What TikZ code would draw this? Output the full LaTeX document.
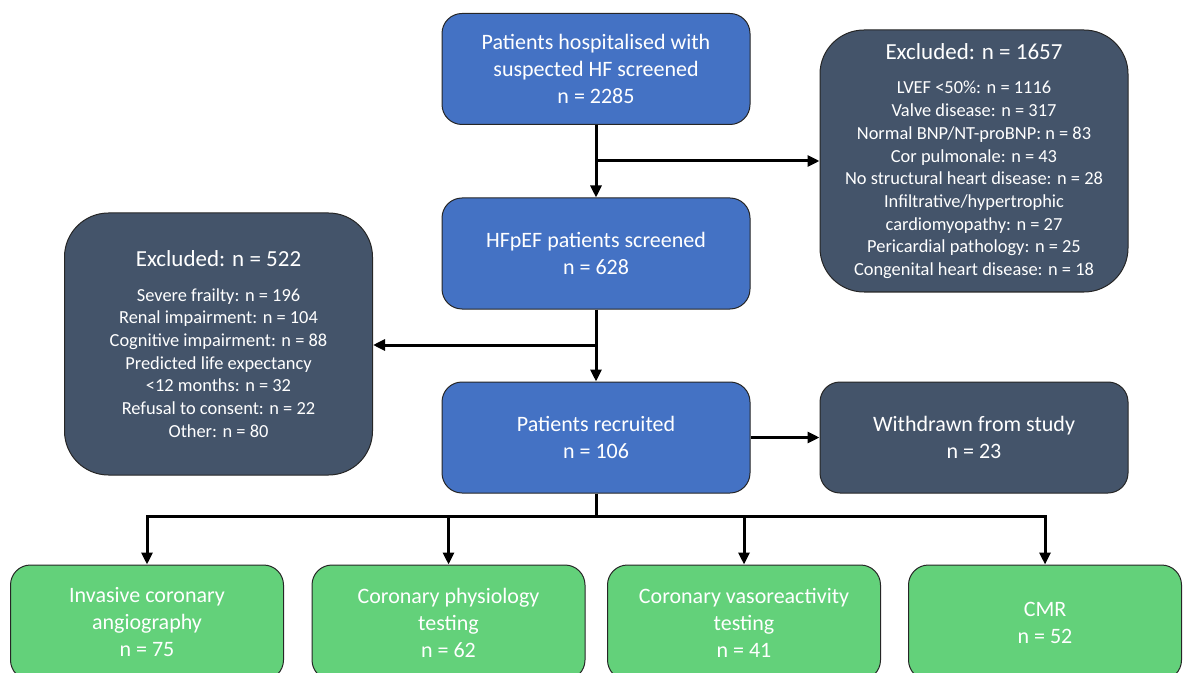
\documentclass[tikz,border=0pt]{standalone}
\usepackage{fontspec}
\setmainfont{Carlito}
\usetikzlibrary{arrows.meta}
\definecolor{boxblue}{HTML}{4472C4}
\definecolor{boxslate}{HTML}{44546A}
\definecolor{boxgreen}{HTML}{63D17A}
\begin{document}
\begin{tikzpicture}[x=0.5pt, y=-0.5pt,
    box/.style={draw=black!85, line width=0.5pt, rounded corners=10pt, text=white, align=center,
        minimum width=154pt, minimum height=55.5pt, font=\fontsize{11}{13.5}\selectfont},
    step1/.style={box, fill=boxblue},
    excl/.style={box, fill=boxslate, rounded corners=22pt, font=\fontsize{9.2}{11.35}\selectfont},
    arm/.style={box, fill=boxgreen, minimum width=136.5pt, minimum height=57.5pt},
    arr/.style={line width=1.5pt, -{Triangle[length=6pt, width=5.5pt]}},
    ln/.style={line width=1.5pt}]

    \useasboundingbox (0,0) rectangle (1186,673);

    \node[step1] (a) at (596, 69) {Patients hospitalised with\\suspected HF screened\\n = 2285};
    \node[step1] (b) at (596, 253.5) {HFpEF patients screened\\n = 628};
    \node[step1] (c) at (596, 437.5) {Patients recruited\\n = 106};
    \node[excl, minimum height=131pt] (d) at (974, 161) {{\fontsize{11.5}{13.5}\selectfont Excluded: n = 1657}\\[6pt]
        LVEF <50\%: n = 1116\\Valve disease: n = 317\\Normal BNP/NT-proBNP: n = 83\\Cor pulmonale: n = 43\\
        No structural heart disease: n = 28\\Infiltrative/hypertrophic\\cardiomyopathy: n = 27\\
        Pericardial pathology: n = 25\\Congenital heart disease: n = 18};
    \node[excl, minimum height=131pt] (e) at (218.5, 344) {{\fontsize{11.5}{13.5}\selectfont Excluded: n = 522}\\[6pt]
        Severe frailty: n = 196\\Renal impairment: n = 104\\Cognitive impairment: n = 88\\
        Predicted life expectancy\\<12 months: n = 32\\Refusal to consent: n = 22\\Other: n = 80};
    \node[excl, rounded corners=10pt, minimum height=55.5pt, font=\fontsize{11}{13.5}\selectfont] (f) at (974, 437.5) {Withdrawn from study\\n = 23};
    \node[arm] (g1) at (147, 622.5) {Invasive coronary\\angiography\\n = 75};
    \node[arm] (g2) at (448.5, 622.5) {Coronary physiology\\testing\\n = 62};
    \node[arm] (g3) at (744, 622.5) {Coronary vasoreactivity\\testing\\n = 41};
    \node[arm] (g4) at (1045, 622.5) {CMR\\n = 52};

    \coordinate (p) at (596, 161);
    \coordinate (q) at (596, 345);
    \coordinate (r) at (596, 516);

    \draw[arr] (a) -- (b);
    \draw[arr] (p) -- (p -| d.west);
    \draw[arr] (b) -- (c);
    \draw[arr] (q) -- (q -| e.east);
    \draw[arr] (c) -- (f);
    \draw[ln] (c.south) -- (r);
    \draw[ln, line cap=rect] (g1.north |- r) -- (g4.north |- r);
    \foreach \g in {g1,g2,g3,g4}
        \draw[arr] (\g.north |- r) -- (\g.north);

\end{tikzpicture}
\end{document}
